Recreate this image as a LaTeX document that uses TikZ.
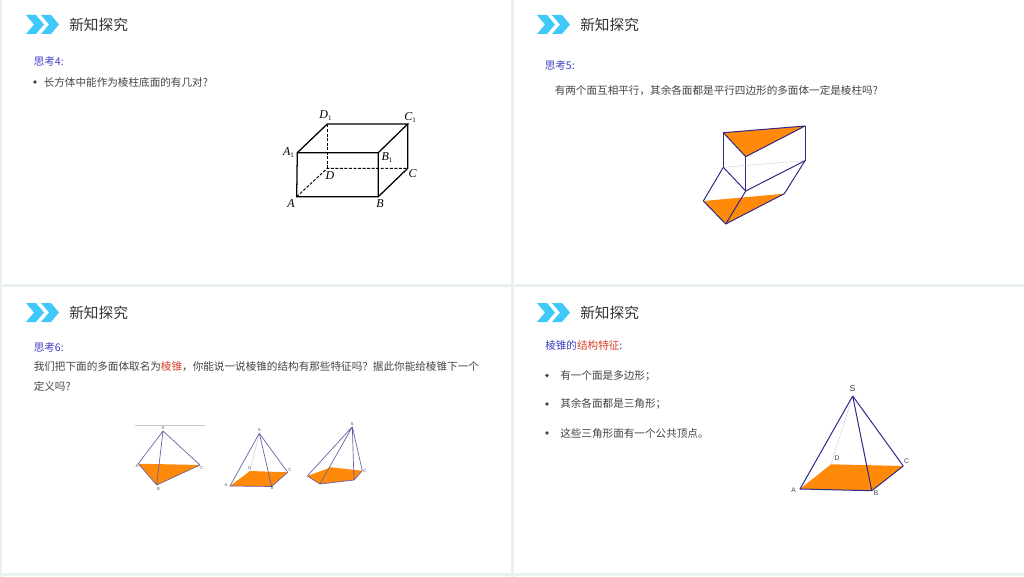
\documentclass[tikz,border=0pt]{standalone}
\usepackage{fontspec}
\setmainfont{Noto Sans CJK SC}
\newfontfamily\geofont{Liberation Sans}
\newfontfamily\cubefont{Liberation Serif}
\usetikzlibrary{calc}
\definecolor{panelline}{HTML}{E8F0F1}
\definecolor{chev}{HTML}{3FC8FB}
\definecolor{heading}{HTML}{333333}
\definecolor{bodytext}{HTML}{444444}
\definecolor{bluetext}{HTML}{3F3FC4}
\definecolor{redtext}{HTML}{D8402A}
\definecolor{edgeblue}{HTML}{2F2A86}
\definecolor{fillorange}{HTML}{FF8A0A}
\tikzset{
 title/.style={anchor=west,inner sep=0,font=\fontsize{11}{13}\selectfont,text=heading},
 bodyt/.style={anchor=west,inner sep=0,font=\fontsize{7.95}{10}\selectfont,text=bodytext},
 bluet/.style={bodyt,text=bluetext},
 dotb/.style={circle,fill=bodytext,inner sep=0,minimum size=2.7pt},
 chevr/.style={fill=chev,draw=none},
 edge/.style={draw=edgeblue,line width=0.75pt,line join=round},
 thinedge/.style={draw=edgeblue!75,line width=0.5pt,line join=round},
 hidden/.style={draw=gray!60,line width=0.35pt,dash pattern=on 1pt off 0.8pt},
 base/.style={fill=fillorange,draw=none},
 ink/.style={draw=black,line width=0.95pt},
 inkd/.style={draw=black,line width=0.7pt,dash pattern=on 2.2pt off 1.2pt},
 cubelab/.style={inner sep=0,font=\cubefont\itshape\fontsize{9}{9}\selectfont},
 geolab/.style={inner sep=0,text=gray!70!black,font=\geofont\fontsize{3.2}{4}\selectfont},
 geolabb/.style={inner sep=0,text=black!75,font=\geofont\fontsize{5}{6}\selectfont},
}
\newcommand{\chevrons}[2]{%
 \fill[chevr] (#1,#2) -- ++(10,0) -- ++(8,9.5) -- ++(-8,9.5) -- ++(-10,0) -- ++(8,-9.5) -- cycle;
 \fill[chevr] (#1,#2) ++(15,0) -- ++(10,0) -- ++(8,9.5) -- ++(-8,9.5) -- ++(-10,0) -- ++(8,-9.5) -- cycle;}
\newcommand{\subone}{\raisebox{-1.2pt}{\fontsize{5.2}{5}\selectfont\upshape 1}}
\begin{document}
\begin{tikzpicture}[x=0.75pt,y=-0.75pt]
\useasboundingbox (0,0) rectangle (1024,577);
\fill[white] (0,0) rectangle (1024,577);
% panel separators
\fill[panelline] (0,0) rectangle (2,577);
\fill[panelline] (510.5,0) rectangle (513.5,577);
\fill[panelline] (0,284.5) rectangle (1024,287);
\fill[panelline] (0,573) rectangle (1024,575.5);
% headers
\chevrons{26}{15}
\chevrons{537}{15}
\chevrons{26}{303}
\chevrons{537}{303}
\node[title] (t1) at (69,24.5) {新知探究};
\node[title] (t2) at (580,24.5) {新知探究};
\node[title] (t3) at (69,312.5) {新知探究};
\node[title] (t4) at (580,312.5) {新知探究};
% panel 1 text
\node[bluet] (q4) at (33.5,61.5) {思考4:};
\node[dotb] (b1) at (35,82) {};
\node[bodyt] (q4t) at (43.5,82) {长方体中能作为棱柱底面的有几对?};
% panel 2 text
\node[bluet] (q5) at (544.5,65.5) {思考5:};
\node[bodyt] (q5t) at (554.5,90.5) {有两个面互相平行，其余各面都是平行四边形的多面体一定是棱柱吗?};
% panel 3 text
\node[bluet] (q6) at (33.5,347.5) {思考6:};
\node[bodyt] (q6a) at (33.5,367) {我们把下面的多面体取名为{\color{redtext}棱锥}，你能说一说棱锥的结构有那些特征吗？据此你能给棱锥下一个};
\node[bodyt] (q6b) at (33.5,386) {定义吗?};
% panel 4 text
\node[bluet] (h4) at (545,345.5) {棱锥的{\color{redtext}结构特征}:};
\node[dotb] (b2) at (547,375.5) {};
\node[bodyt] (l1) at (560,375.5) {有一个面是多边形；};
\node[dotb] (b3) at (547,404) {};
\node[bodyt] (l2) at (560,404) {其余各面都是三角形；};
\node[dotb] (b4) at (547,433) {};
\node[bodyt] (l3) at (560,433) {这些三角形面有一个公共顶点。};
% cuboid
\coordinate (A) at (296.7,196.7);
\coordinate (B) at (378.3,196.7);
\coordinate (C) at (407.7,168.3);
\coordinate (D) at (327.3,168.3);
\coordinate (A1) at (297.3,152.7);
\coordinate (B1) at (378.3,152.7);
\coordinate (C1) at (407.7,124);
\coordinate (D1) at (327.3,124);
\draw[ink] (A)--(B)--(B1)--(A1)--cycle;
\draw[ink] (A1)--(D1)--(C1)--(B1);
\draw[ink] (B)--(C)--(C1);
\draw[inkd] (A)--(D)--(C);
\draw[inkd] (D)--(D1);
\node[cubelab] (lA) at (291,203.5) {A};
\node[cubelab] (lB) at (380,204) {B};
\node[cubelab] (lC) at (412.5,173.5) {C};
\node[cubelab] (lD) at (330,175.5) {D};
\node[cubelab] (lA1) at (288.5,152.5) {A\subone};
\node[cubelab] (lB1) at (387,157.5) {B\subone};
\node[cubelab] (lC1) at (410,117.5) {C\subone};
\node[cubelab] (lD1) at (325.5,115.5) {D\subone};
% prism-like solid
\coordinate (p1) at (723.3,132.7);
\coordinate (p2) at (805,126);
\coordinate (p3) at (745.7,156.7);
\coordinate (m1) at (723.3,167.3);
\coordinate (m2) at (805,160.7);
\coordinate (m3) at (745.7,191);
\coordinate (q1) at (703.3,201);
\coordinate (q2) at (725.7,224);
\coordinate (q3) at (784.3,193.7);
\fill[base] (p1)--(p2)--(p3)--cycle;
\fill[base] (q1)--(q2)--(q3)--cycle;
\draw[edge] (p1)--(p2)--(p3)--cycle;
\draw[edge] (p1)--(m1) (p2)--(m2) (p3)--(m3);
\draw[hidden] (m1)--(m2);
\draw[edge] (m1)--(m3)--(m2);
\draw[edge] (m1)--(q1)--(q2)--(q3)--(m2);
\draw[edge] (m3)--(q2);
% pyramid 3a
\coordinate (aS) at (163,431);
\coordinate (aA) at (138.3,463.7);
\coordinate (aB) at (156.7,485);
\coordinate (aC) at (200,465);
\draw[draw=gray!45,line width=0.5pt] (135,425.3) coordinate (g1) -- (205,425.3) coordinate (g2);
\fill[base] (aA)--(aB)--(aC)--cycle;
\draw[thinedge] (aS)--(aA)--(aB)--(aC)--(aS) (aS)--(aB);
\node[geolab] (laS) at (163,428) {S};
\node[geolab] (laA) at (137,466) {A};
\node[geolab] (laB) at (158.5,489) {B};
\node[geolab] (laC) at (202,468) {C};
% pyramid 3b
\coordinate (bS) at (259.3,433.3);
\coordinate (bA) at (230,486);
\coordinate (bB) at (271.7,486.5);
\coordinate (bC) at (287.7,472.3);
\coordinate (bD) at (250,471);
\fill[base] (bA)--(bB)--(bC)--(bD)--cycle;
\draw[hidden] (bS)--(bD);
\draw[thinedge] (bS)--(bA)--(bB)--(bC)--(bS) (bS)--(bB);
\node[geolab] (lbS) at (259.3,430) {S};
\node[geolab] (lbA) at (226,485.5) {A};
\node[geolab] (lbB) at (272,488.5) {B};
\node[geolab] (lbC) at (290,470) {C};
\node[geolab] (lbD) at (250,468) {D};
% pyramid 3c
\coordinate (cS) at (352.3,426.7);
\coordinate (cA) at (307.3,476);
\coordinate (cB) at (320,484);
\coordinate (cC) at (354,480);
\coordinate (cD) at (362.3,470.7);
\coordinate (cE) at (331,467.3);
\fill[base] (cA)--(cB)--(cC)--(cD)--(cE)--cycle;
\draw[thinedge] (cS)--(cA)--(cB)--(cC)--(cD)--(cS) (cS)--(cB) (cS)--(cC);
\node[geolab] (lcS) at (352,424.5) {S};
\node[geolab] (lcD) at (365,471) {C};
% pyramid 4
\coordinate (dS) at (852.7,396);
\coordinate (dA) at (800,489);
\coordinate (dB) at (871.7,490.7);
\coordinate (dC) at (903.3,466);
\coordinate (dD) at (831,464.3);
\fill[base] (dA)--(dB)--(dC)--(dD)--cycle;
\draw[hidden] (dS)--(dD);
\draw[edge] (dS)--(dA)--(dB)--(dC)--(dS) (dS)--(dB);
\node[geolabb,font=\geofont\fontsize{6.5}{7}\selectfont] (ldS) at (852.5,388.5) {S};
\node[geolabb] (ldA) at (793.5,490) {A};
\node[geolabb] (ldB) at (876,493) {B};
\node[geolabb] (ldC) at (906.5,461.5) {C};
\node[geolabb] (ldD) at (837,458) {D};
\end{tikzpicture}
\end{document}
